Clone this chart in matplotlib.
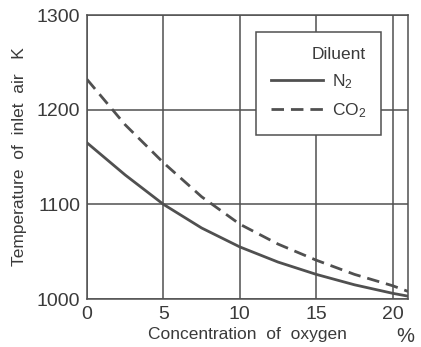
import matplotlib
matplotlib.use("Agg")
import matplotlib.pyplot as plt

oxygen = [0, 2.5, 5, 7.5, 10, 12.5, 15, 17.5, 20, 21]
temp_n2 = [1165, 1131, 1100, 1075, 1055, 1039, 1026, 1015, 1006, 1003]
temp_co2 = [1232, 1184, 1144, 1108, 1079, 1058, 1041, 1026, 1014, 1008]
x_ticks = [0, 5, 10, 15, 20]
y_ticks = [1000, 1100, 1200, 1300]

plt.rcParams['font.family'] = ['Liberation Sans', 'DejaVu Sans']
plt.rcParams['mathtext.default'] = 'regular'
line_col = '#505050'
text_col = '#3a3a3a'

fig = plt.figure(figsize=(4.21, 3.47), dpi=100)
ax = fig.add_axes([87/421, 1-299/347, (408-87)/421, (299-15)/347])

ax.plot(oxygen, temp_n2, color=line_col, lw=2.0, ls='-', label='N$_2$')
ax.plot(oxygen, temp_co2, color=line_col, lw=2.0, ls=(0, (4.5, 2.5)), label='CO$_2$')

ax.set_xlim(0, 21)
ax.set_ylim(1000, 1300)
ax.set_xticks(x_ticks)
ax.set_yticks(y_ticks)
ax.grid(True, color='#505050', lw=1.1)
ax.tick_params(length=0, labelsize=14, colors=text_col, pad=5)
for s in ax.spines.values():
    s.set_color('#505050')
    s.set_linewidth(1.1)

ax.set_xlabel('Concentration  of  oxygen', fontsize=12.5, color=text_col, labelpad=3)
ax.set_ylabel('Temperature  of  inlet  air   K', fontsize=12.5, color=text_col, labelpad=7)
fig.text(405/421, 1-337/347, '%', fontsize=14.5, color=text_col, ha='center', va='center')

leg = ax.legend(loc='upper right', title='Diluent', alignment='right',
                fontsize=12.5, title_fontsize=12.5, frameon=True, fancybox=False,
                edgecolor='#505050', framealpha=1, handlelength=3.0, handletextpad=0.5,
                borderpad=0.85, labelspacing=0.6, borderaxespad=0)
leg.set_bbox_to_anchor((381/421, 1-32/347), transform=fig.transFigure)
leg.get_frame().set_linewidth(1.1)
for t in leg.get_texts():
    t.set_color(text_col)
leg.get_title().set_color(text_col)

fig.savefig('out.png', dpi=100, facecolor='white')
